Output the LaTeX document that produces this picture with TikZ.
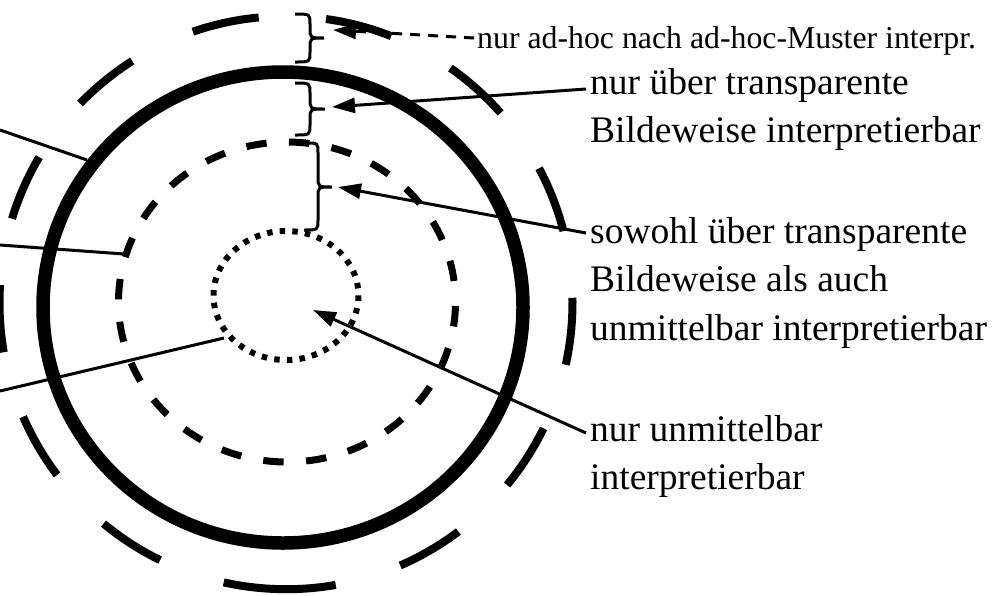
\documentclass[tikz,border=0pt]{standalone}
\usepackage{fontspec}
\setmainfont{Liberation Serif}
\usetikzlibrary{arrows.meta}
\begin{document}
\begin{tikzpicture}[x=1pt,y=-1pt,
  outerring/.style={line width=8pt, dash pattern=on 67.5pt off 67.5pt},
  thickring/.style={line width=13.5pt},
  midring/.style={line width=7pt, dash pattern=on 20.5pt off 22.4pt, dash phase=38.9pt},
  innerring/.style={line width=6pt, dash pattern=on 5.5pt off 7.17pt},
  leader/.style={line width=3pt},
  bracestyle/.style={line width=3pt},
  pointer/.style={line width=3pt, -{Triangle[length=23pt,width=15pt]}},
  dpointer/.style={pointer, dash pattern=on 10pt off 8pt},
  bigtext/.style={inner sep=0pt, anchor=base west, font=\fontsize{37.5}{48.5}\selectfont},
  smalltext/.style={inner sep=0pt, anchor=base west, font=\fontsize{31.8}{38}\selectfont},
]
\useasboundingbox (0,0) rectangle (1001,595);

% rings
\draw[outerring] (286,302.7) ++(93.5:286.5) arc[start angle=93.5, end angle=-266.5, radius=286.5];
\draw[thickring] (283,307.5) ellipse[x radius=240, y radius=235.5];
\draw[midring] (287,302) ellipse[x radius=168.5, y radius=160];
\draw[innerring] (286,295.5) ellipse[x radius=72.5, y radius=64.5];

% braces
\draw[bracestyle] (295,14) .. controls (310,14) .. (310,24) -- (310,28)
  .. controls (310,38) .. (324,38) .. controls (310,38) .. (310,48) -- (310,52)
  .. controls (310,62) .. (295,62);
\draw[bracestyle] (295,83) .. controls (310,83) .. (310,93) -- (310,99)
  .. controls (310,109) .. (325,109) .. controls (310,109) .. (310,119) -- (310,125)
  .. controls (310,135) .. (295,135);
\draw[bracestyle] (306,143) .. controls (318,143) .. (318,153) -- (318,177)
  .. controls (318,187) .. (332,187) .. controls (318,187) .. (318,197) -- (318,220)
  .. controls (318,230) .. (304,230);

% texts
\node[smalltext] (t1) at (477,48) {nur ad-hoc nach ad-hoc-Muster interpr.};
\node[bigtext] (t2) at (590,94) {\begin{tabular}[t]{@{}l@{}}nur über transparente\\Bildeweise interpretierbar\end{tabular}};
\node[bigtext] (t3) at (590,243) {\begin{tabular}[t]{@{}l@{}}sowohl über transparente\\Bildeweise als auch\\unmittelbar interpretierbar\end{tabular}};
\node[bigtext] (t4) at (590,441) {\begin{tabular}[t]{@{}l@{}}nur unmittelbar\\interpretierbar\end{tabular}};

% connector ends
\coordinate (s1) at (474,38); \coordinate (p1) at (333,30);
\coordinate (s2) at (586,89); \coordinate (p2) at (332,107);
\coordinate (s3) at (586,233); \coordinate (p3) at (338,187);
\coordinate (s4) at (586,433); \coordinate (p4) at (313,310);
\coordinate (l1a) at (0,130); \coordinate (l1b) at (87,160);
\coordinate (l2a) at (0,245); \coordinate (l2b) at (124,254);
\coordinate (l3a) at (0,391); \coordinate (l3b) at (224,338);

% leaders from the left
\draw[leader] (l1a) -- (l1b);
\draw[leader] (l2a) -- (l2b);
\draw[leader] (l3a) -- (l3b);

% pointers
\draw[dpointer] (s1) -- (p1);
\draw[pointer] (s2) -- (p2);
\draw[pointer] (s3) -- (p3);
\draw[pointer] (s4) -- (p4);
\end{tikzpicture}
\end{document}
